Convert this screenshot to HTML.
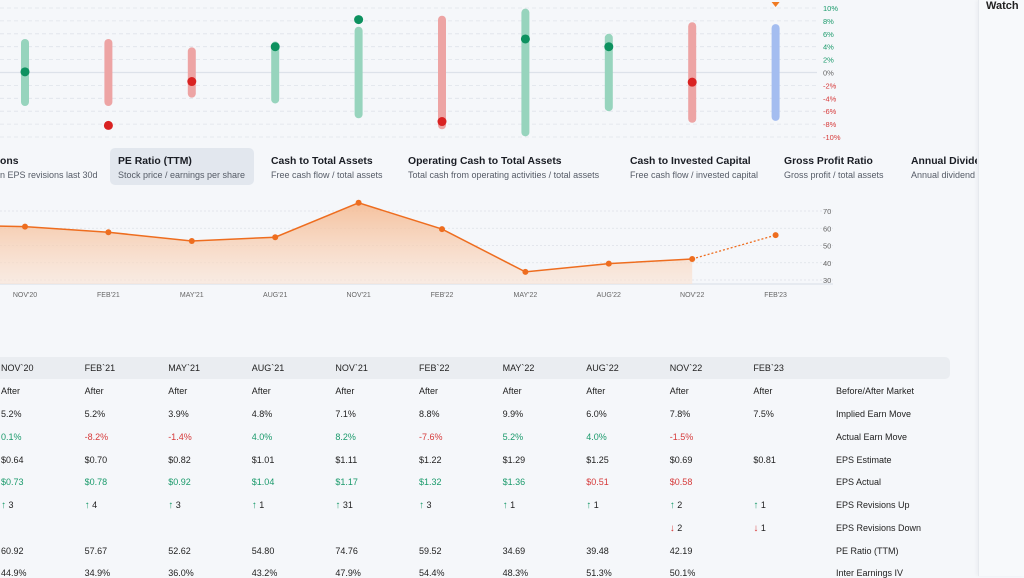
<!DOCTYPE html>
<html><head><meta charset="utf-8">
<style>
html,body{margin:0;padding:0;width:1024px;height:576px;overflow:hidden;background:#f5f7fa;font-family:"Liberation Sans",sans-serif;}
.side{position:absolute;left:978px;top:0;width:46px;height:576px;background:#f7f9fb;border-left:1px solid #e6e9ee;box-shadow:-2px 0 3px rgba(0,0,0,0.03);}
.side span{position:absolute;left:7px;top:0px;font-size:11px;font-weight:bold;color:#222;}
.tab{position:absolute;top:148px;height:37px;white-space:nowrap;}
.tab b{display:block;font-size:10.4px;color:#1a1d24;margin-top:8px;}
.tab i{display:block;font-style:normal;font-size:9px;color:#555b66;margin-top:3px;}
.tab.sel{background:#e2e7ee;border-radius:5px;}
.hdr{position:absolute;left:0;top:357px;width:950px;height:22px;background:#eaedf1;border-radius:0 5px 5px 0;}
.c{position:absolute;font-size:9px;color:#222;white-space:nowrap;}
.g{color:#1a9a6b}.r{color:#d63a3a}
.ar{font-weight:bold;font-size:10px}
</style></head><body>
<svg id="topChart" width="1024" height="145" style="position:absolute;left:0;top:0"></svg>
<svg id="lineChart" width="1024" height="110" style="position:absolute;left:0;top:195px"></svg>

<div class="tab" style="left:0;width:100px"><b>ons</b><i>n EPS revisions last 30d</i></div>
<div class="tab sel" style="left:110px;width:144px"><b style="margin-left:8px">PE Ratio (TTM)</b><i style="margin-left:8px">Stock price / earnings per share</i></div>
<div class="tab" style="left:271px"><b>Cash to Total Assets</b><i>Free cash flow / total assets</i></div>
<div class="tab" style="left:408px"><b>Operating Cash to Total Assets</b><i>Total cash from operating activities / total assets</i></div>
<div class="tab" style="left:630px"><b>Cash to Invested Capital</b><i>Free cash flow / invested capital</i></div>
<div class="tab" style="left:784px"><b>Gross Profit Ratio</b><i>Gross profit / total assets</i></div>
<div class="tab" style="left:911px;width:66px;overflow:hidden"><b>Annual Dividend</b><i>Annual dividend yield</i></div>

<div class="hdr"></div>
<div id="table"></div>
<div class="side"><span>Watch</span></div>

<script>
const quarters=["NOV`20","FEB`21","MAY`21","AUG`21","NOV`21","FEB`22","MAY`22","AUG`22","NOV`22","FEB`23"];
const implied=[5.2,5.2,3.9,4.8,7.1,8.8,9.9,6.0,7.8,7.5];
const actual=[0.1,-8.2,-1.4,4.0,8.2,-7.6,5.2,4.0,-1.5,null];
const pctTicks=[10,8,6,4,2,0,-2,-4,-6,-8,-10];
const peValues=[60.92,57.67,52.62,54.80,74.76,59.52,34.69,39.48,42.19];
const peForecast=56;
const pePrev=62;
const peTicks=[70,60,50,40,30];
const timing=["After","After","After","After","After","After","After","After","After","After"];
const epsEst=["$0.64","$0.70","$0.82","$1.01","$1.11","$1.22","$1.29","$1.25","$0.69","$0.81"];
const epsAct=["$0.73","$0.78","$0.92","$1.04","$1.17","$1.32","$1.36","$0.51","$0.58",""];
const revUp=[3,4,3,1,31,3,1,1,2,1];
const revDown=[null,null,null,null,null,null,null,null,2,1];
const peText=["60.92","57.67","52.62","54.80","74.76","59.52","34.69","39.48","42.19",""];
const iv=["44.9%","34.9%","36.0%","43.2%","47.9%","54.4%","48.3%","51.3%","50.1%",""];

const NS="http://www.w3.org/2000/svg";
function mk(p,t,a){const e=document.createElementNS(NS,t);for(const k in a)e.setAttribute(k,a[k]);p.appendChild(e);return e;}
const xCol=i=>25+i*83.4;
// top chart
const tc=document.getElementById('topChart');
const yP=v=>72.5-v*6.45;
pctTicks.forEach(t=>{
  const l=mk(tc,'line',{x1:0,x2:817,y1:yP(t),y2:yP(t),stroke:t===0?'#dde2ea':'#dfe3ea','stroke-width':t===0?1.2:0.8,'stroke-dasharray':t===0?'':'4 3'});
  
  
  const tx=mk(tc,'text',{x:823,y:yP(t)+3,'font-size':7.5,fill:t>0?'#1a9a6b':t<0?'#d63a3a':'#666'});
  tx.textContent=t+'%';
  
  
});
quarters.forEach((q,i)=>{
  const a=actual[i];
  const col=a===null?'#a4bdf0':(a>=0?'#97d4bd':'#eda4a4');
  const b=mk(tc,'line',{x1:xCol(i),x2:xCol(i),y1:yP(implied[i])+4,y2:yP(-implied[i])-4,stroke:col,'stroke-width':8,'stroke-linecap':'round'});
  
  
  if(a!==null){
    const d=mk(tc,'circle',{cx:xCol(i),cy:yP(a),r:4.5,fill:a>=0?'#0d915f':'#d92222'});
    
    
  } else {
    const x=xCol(i);
    const tr=mk(tc,'polygon',{points:`${x-4},2 ${x+4},2 ${x},7`,fill:'#f07a22'});
    
    
  }
});
// line chart
const lc=document.getElementById('lineChart');
const yV=v=>(280-195)-(v-30)*1.725;
const defs=mk(lc,'defs',{});
const lg=mk(defs,'linearGradient',{id:'ag',x1:0,y1:0,x2:0,y2:1});
mk(lg,'stop',{offset:0,'stop-color':'#f5b88e','stop-opacity':0.85});
mk(lg,'stop',{offset:1,'stop-color':'#fbe3d3','stop-opacity':0.6});
peTicks.forEach(t=>{
  const l=mk(lc,'line',{x1:0,x2:833,y1:yV(t),y2:yV(t),stroke:'#dde1e8','stroke-width':0.8,'stroke-dasharray':'2 2'});
  
  
  const tx=mk(lc,'text',{x:823,y:yV(t)+3,'font-size':7.5,fill:'#666'});
  tx.textContent=t;
  
  
});
const base=mk(lc,'line',{x1:0,x2:833,y1:89,y2:89,stroke:'#d8dde5','stroke-width':1});


let pts=[[xCol(-1),yV(pePrev)]].concat(peValues.map((v,i)=>[xCol(i),yV(v)]));
const last=pts[pts.length-1];
const area=mk(lc,'path',{d:'M'+pts.map(p=>p.join(',')).join(' L')+` L${last[0]},89 L${pts[0][0]},89 Z`,fill:'url(#ag)'});


const ln=mk(lc,'polyline',{points:pts.map(p=>p.join(',')).join(' '),fill:'none',stroke:'#ee6d1f','stroke-width':1.5});


const fx=xCol(peValues.length),fy=yV(peForecast);
const dl=mk(lc,'line',{x1:last[0],y1:last[1],x2:fx,y2:fy,stroke:'#ee6d1f','stroke-width':1.3,'stroke-dasharray':'2 2'});


peValues.concat([peForecast]).forEach((v,i)=>{
  const c=mk(lc,'circle',{cx:xCol(i),cy:yV(v),r:3,fill:'#ee6d1f'});
  
  
});
quarters.forEach((q,i)=>{
  const t=mk(lc,'text',{x:xCol(i),y:102,'font-size':7,fill:'#666','text-anchor':'middle'});
  t.textContent=q.replace('`',"'");
  
  
});
// table
const tb=document.getElementById('table');
const colX=i=>1+i*83.6;
function cell(x,y,txt,cls,name){
  const d=document.createElement('div');
  d.className='c '+(cls||'');
  d.style.left=x+'px';d.style.top=(y-5)+'px';
  d.innerHTML=txt;
  
  
  tb.appendChild(d);
}
const rowY=[368,391,414,437,460,482,505,528,551,573];
quarters.forEach((q,i)=>{
  const x=colX(i);
  cell(x,rowY[0],q,'','column-header');
  cell(x,rowY[1],timing[i],'','timing-cell');
  cell(x,rowY[2],implied[i].toFixed(1)+'%','','implied-move-cell');
  if(actual[i]!==null)cell(x,rowY[3],actual[i].toFixed(1)+'%',actual[i]>=0?'g':'r','actual-move-cell');
  cell(x,rowY[4],epsEst[i],'','eps-estimate-cell');
  if(epsAct[i]){const a=parseFloat(epsAct[i].slice(1)),e=parseFloat(epsEst[i].slice(1));cell(x,rowY[5],epsAct[i],a>=e?'g':'r','eps-actual-cell');}
  if(revUp[i]!==null)cell(x,rowY[6],'<span class="g ar">&#8593;</span> '+revUp[i],'','revisions-up-cell');
  if(revDown[i]!==null)cell(x,rowY[7],'<span class="r ar">&#8595;</span> '+revDown[i],'','revisions-down-cell');
  cell(x,rowY[8],peText[i],'','pe-cell');
  cell(x,rowY[9],iv[i],'','iv-cell');
});
["Before/After Market","Implied Earn Move","Actual Earn Move","EPS Estimate","EPS Actual","EPS Revisions Up","EPS Revisions Down","PE Ratio (TTM)","Inter Earnings IV"].forEach((l,k)=>cell(836,rowY[k+1],l,'','row-label'));
</script>
</body></html>
